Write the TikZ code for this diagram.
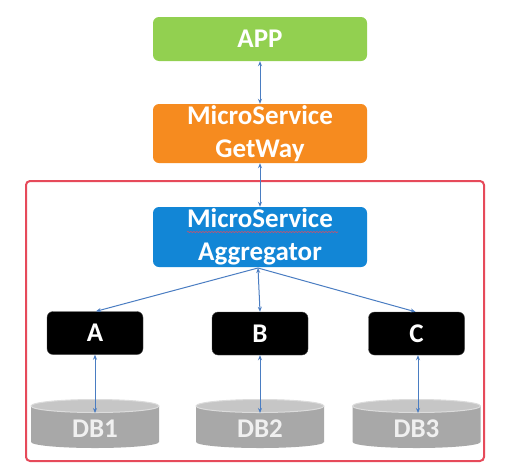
\documentclass[tikz,border=0pt]{standalone}
\usepackage{fontspec}
\setmainfont{Carlito}
\usetikzlibrary{arrows.meta,decorations.pathmorphing}
\definecolor{appgreen}{HTML}{92D050}
\definecolor{gworange}{HTML}{F68B1F}
\definecolor{aggblue}{HTML}{1286D6}
\definecolor{arrowblue}{HTML}{4A7DC2}
\definecolor{framered}{HTML}{E64A5A}
\definecolor{dbbody}{HTML}{A8A8A8}
\definecolor{dbtop}{HTML}{C6C6C6}
\definecolor{dbrim}{HTML}{DCDCDC}
\tikzset{
  box/.style={rounded corners=6pt, inner sep=0pt, text=white,
    font=\fontsize{27}{33}\selectfont\bfseries, align=center},
  wide/.style={box, minimum width=214pt},
  small/.style={box, fill=black, draw=black!70, minimum width=96pt, minimum height=43pt},
  link/.style={draw=arrowblue, line width=1pt, {Stealth[length=5pt,width=4pt]}-{Stealth[length=5pt,width=4pt]}},
  onelink/.style={draw=arrowblue, line width=1pt, -{Stealth[length=5pt,width=4pt]}},
  dblabel/.style={text=white!94!black, font=\fontsize{27}{30}\selectfont\bfseries, inner sep=0pt},
}
\newcommand{\dbcyl}[3]{% name, center x, label
  \fill[dbbody] (#2-64,406) -- (#2-64,442) arc[start angle=180,end angle=0,x radius=64,y radius=6] -- (#2+64,406) -- cycle;
  \fill[dbtop, draw=dbrim, line width=1pt] (#2,406) ellipse[x radius=64, y radius=6.5];
  \node[dblabel] (#1) at (#2,429) {#3};
}
\begin{document}
\begin{tikzpicture}[x=1pt,y=-1pt]
\useasboundingbox[fill=white] (0,0) rectangle (526,474);
% frame
\node[draw=framered, line width=2pt, rounded corners=4pt, minimum width=458pt, minimum height=280pt, inner sep=0pt] (frame) at (255,321) {};
% top boxes
\node[wide, fill=appgreen, minimum height=44pt] (app) at (260,39) {APP};
\node[wide, fill=gworange, minimum height=59pt] (gw) at (260,133.5) {MicroService\\GetWay};
\node[wide, fill=aggblue, minimum height=60pt] (agg) at (260,237) {MicroService\\Aggregator};
\draw[framered, line width=0.6pt, decorate, decoration={snake, amplitude=0.5pt, segment length=3pt}] (187,232) -- (338,232);
% services
\node[small] (a) at (95,333) {A};
\node[small] (b) at (260,333.5) {B};
\node[small] (c) at (416.5,333.5) {C};
% databases
\dbcyl{db1}{95}{DB1}
\dbcyl{db2}{260}{DB2}
\dbcyl{db3}{416.5}{DB3}
\coordinate (aggb) at (258,268);
\coordinate (dbt1) at (95,413);
\coordinate (dbt2) at (260,413);
\coordinate (dbt3) at (418,413);
% connectors
\draw[link] (app.south) -- (gw.north);
\draw[link] (gw.south) -- (agg.north);
\draw[link] (aggb) -- (b.north);
\draw[onelink] (aggb) -- ([xshift=1pt]a.north);
\draw[onelink] (aggb) -- ([xshift=-1pt]c.north);
\draw[link] (a.south) -- (dbt1);
\draw[link] (b.south) -- (dbt2);
\draw[link] ([xshift=1.5pt]c.south) -- (dbt3);
\end{tikzpicture}
\end{document}
